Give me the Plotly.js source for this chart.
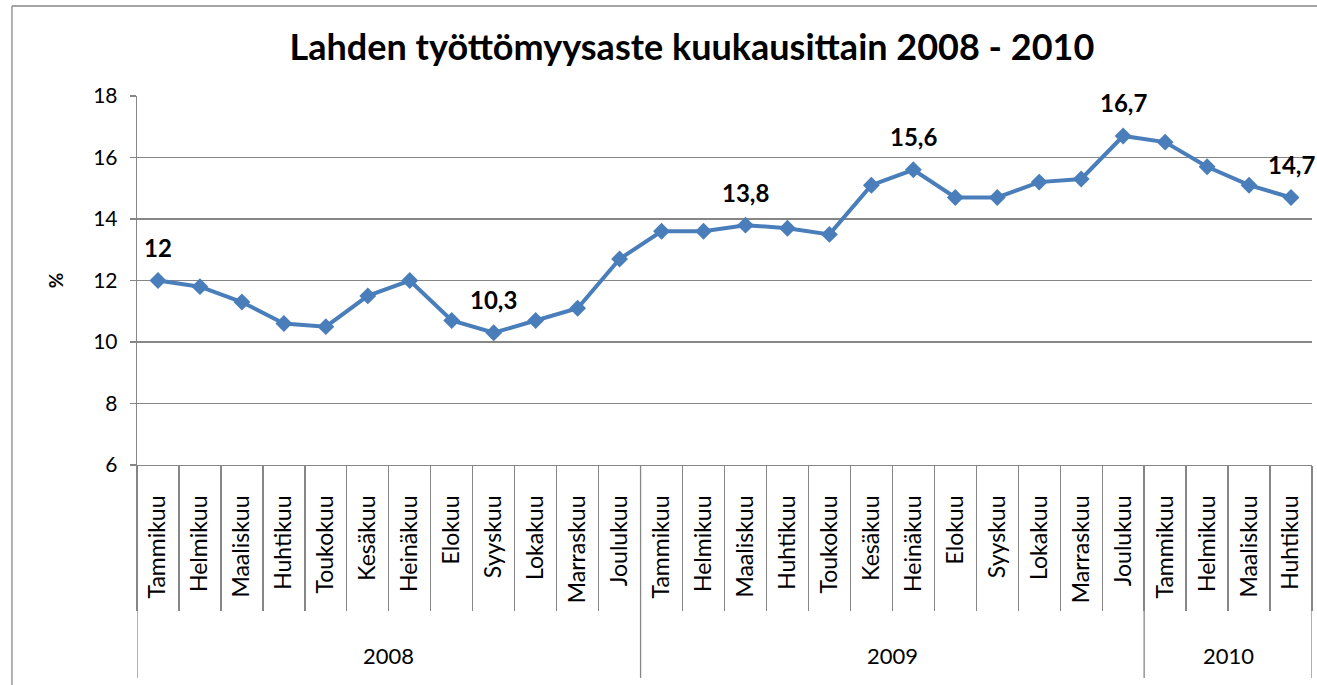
<!DOCTYPE html>
<html>
<head>
<meta charset="utf-8">
<script src="https://cdn.plot.ly/plotly-3.0.1.min.js"></script>
<style>
html,body{margin:0;padding:0;background:#fff;}
#chart{width:1317px;height:685px;}
</style>
</head>
<body>
<div id="chart"></div>
<script>
// ---- data ----
const months = ["Tammikuu","Helmikuu","Maaliskuu","Huhtikuu","Toukokuu","Kesäkuu","Heinäkuu","Elokuu","Syyskuu","Lokakuu","Marraskuu","Joulukuu",
                "Tammikuu","Helmikuu","Maaliskuu","Huhtikuu","Toukokuu","Kesäkuu","Heinäkuu","Elokuu","Syyskuu","Lokakuu","Marraskuu","Joulukuu",
                "Tammikuu","Helmikuu","Maaliskuu","Huhtikuu"];
const years = ["2008","2009","2010"];
const monthsPerYear = [12, 12, 4];
const rate = [12.0,11.8,11.3,10.6,10.5,11.5,12.0,10.7,10.3,10.7,11.1,12.7,
              13.6,13.6,13.8,13.7,13.5,15.1,15.6,14.7,14.7,15.2,15.3,16.7,
              16.5,15.7,15.1,14.7];
const labelled = [0, 8, 14, 18, 23, 27];
const yTicks = [6, 8, 10, 12, 14, 16, 18];

// ---- build ----
const idx = months.map((m, i) => i);
const fmt = v => (Number.isInteger(v) ? String(v) : v.toFixed(1).replace('.', ','));
const gray = '#868686';
const font = 'Lato, "Open Sans", sans-serif';

const boundaries = [-0.5].concat(idx.map(i => i + 0.5));

const shapes = [];
const annotations = [];
let start = -0.5;
years.forEach((y, k) => {
  const end = start + monthsPerYear[k];
  annotations.push({
    x: (start + end) / 2, xref: 'x', y: -0.515, yref: 'paper',
    text: y, showarrow: false, yanchor: 'middle',
    font: {family: font, size: 22, color: '#000'}
  });
  start = end;
});
let acc = -0.5;
[0].concat(monthsPerYear).forEach(n => {
  acc += n;
  shapes.push({type: 'line', xref: 'x', yref: 'paper', x0: acc, x1: acc, y0: 0, y1: -0.577,
               line: {color: gray, width: 1.3}});
});
// outer chart border
shapes.push({type: 'line', xref: 'paper', yref: 'paper', x0: -0.1064, x1: 1.2, y0: 1.2439, y1: 1.2439, line: {color: gray, width: 1.3}});
shapes.push({type: 'line', xref: 'paper', yref: 'paper', x0: -0.1064, x1: -0.1064, y0: 1.2439, y1: -0.7, line: {color: gray, width: 1.3}});

labelled.forEach(i => {
  annotations.push({
    x: i, y: rate[i], xref: 'x', yref: 'y', text: '<b>' + fmt(rate[i]) + '</b>',
    showarrow: false, yshift: 33, yanchor: 'middle',
    font: {family: font, size: 24, color: '#000'}
  });
});

const trace = {
  x: idx, y: rate, type: 'scatter', mode: 'lines+markers',
  line: {color: '#4A7EBB', width: 4},
  marker: {symbol: 'diamond', size: 13, color: '#4A7EBB'},
  hoverinfo: 'y'
};

const layout = {
  width: 1317, height: 685,
  margin: {l: 137, r: 5, t: 96, b: 220},
  paper_bgcolor: '#fff', plot_bgcolor: '#fff',
  showlegend: false,
  title: {
    text: '<b>Lahden työttömyysaste kuukausittain 2008 - 2010</b>',
    x: 0.5254, xref: 'container', xanchor: 'center',
    y: 0.931, yref: 'container', yanchor: 'middle',
    font: {family: font, size: 36, color: '#000'}
  },
  xaxis: {
    range: [-0.5, 27.5], tickmode: 'array', tickvals: idx, ticktext: months,
    tickangle: -90, ticks: '', showgrid: false, zeroline: false,
    showline: true, linecolor: gray, linewidth: 1.3,
    ticklabelstandoff: 20,
    tickfont: {family: font, size: 23, color: '#000'},
    minor: {tickmode: 'array', tickvals: boundaries, ticks: 'outside', ticklen: 145, tickcolor: gray, tickwidth: 1.3, showgrid: false},
    fixedrange: true
  },
  yaxis: {
    range: [6, 18], tickmode: 'array', tickvals: yTicks,
    showgrid: true, gridcolor: gray, gridwidth: 1.3, zeroline: false,
    showline: true, linecolor: gray, linewidth: 1.3,
    ticks: 'outside', ticklen: 6, tickcolor: gray, tickwidth: 1.3,
    ticklabelstandoff: 8,
    tickfont: {family: font, size: 21, color: '#000'},
    title: {text: '<b>%</b>', standoff: 24, font: {family: font, size: 19, color: '#000'}},
    automargin: false, fixedrange: true
  },
  shapes: shapes,
  annotations: annotations
};

Plotly.newPlot('chart', [trace], layout, {displayModeBar: false, staticPlot: true});
</script>
</body>
</html>
